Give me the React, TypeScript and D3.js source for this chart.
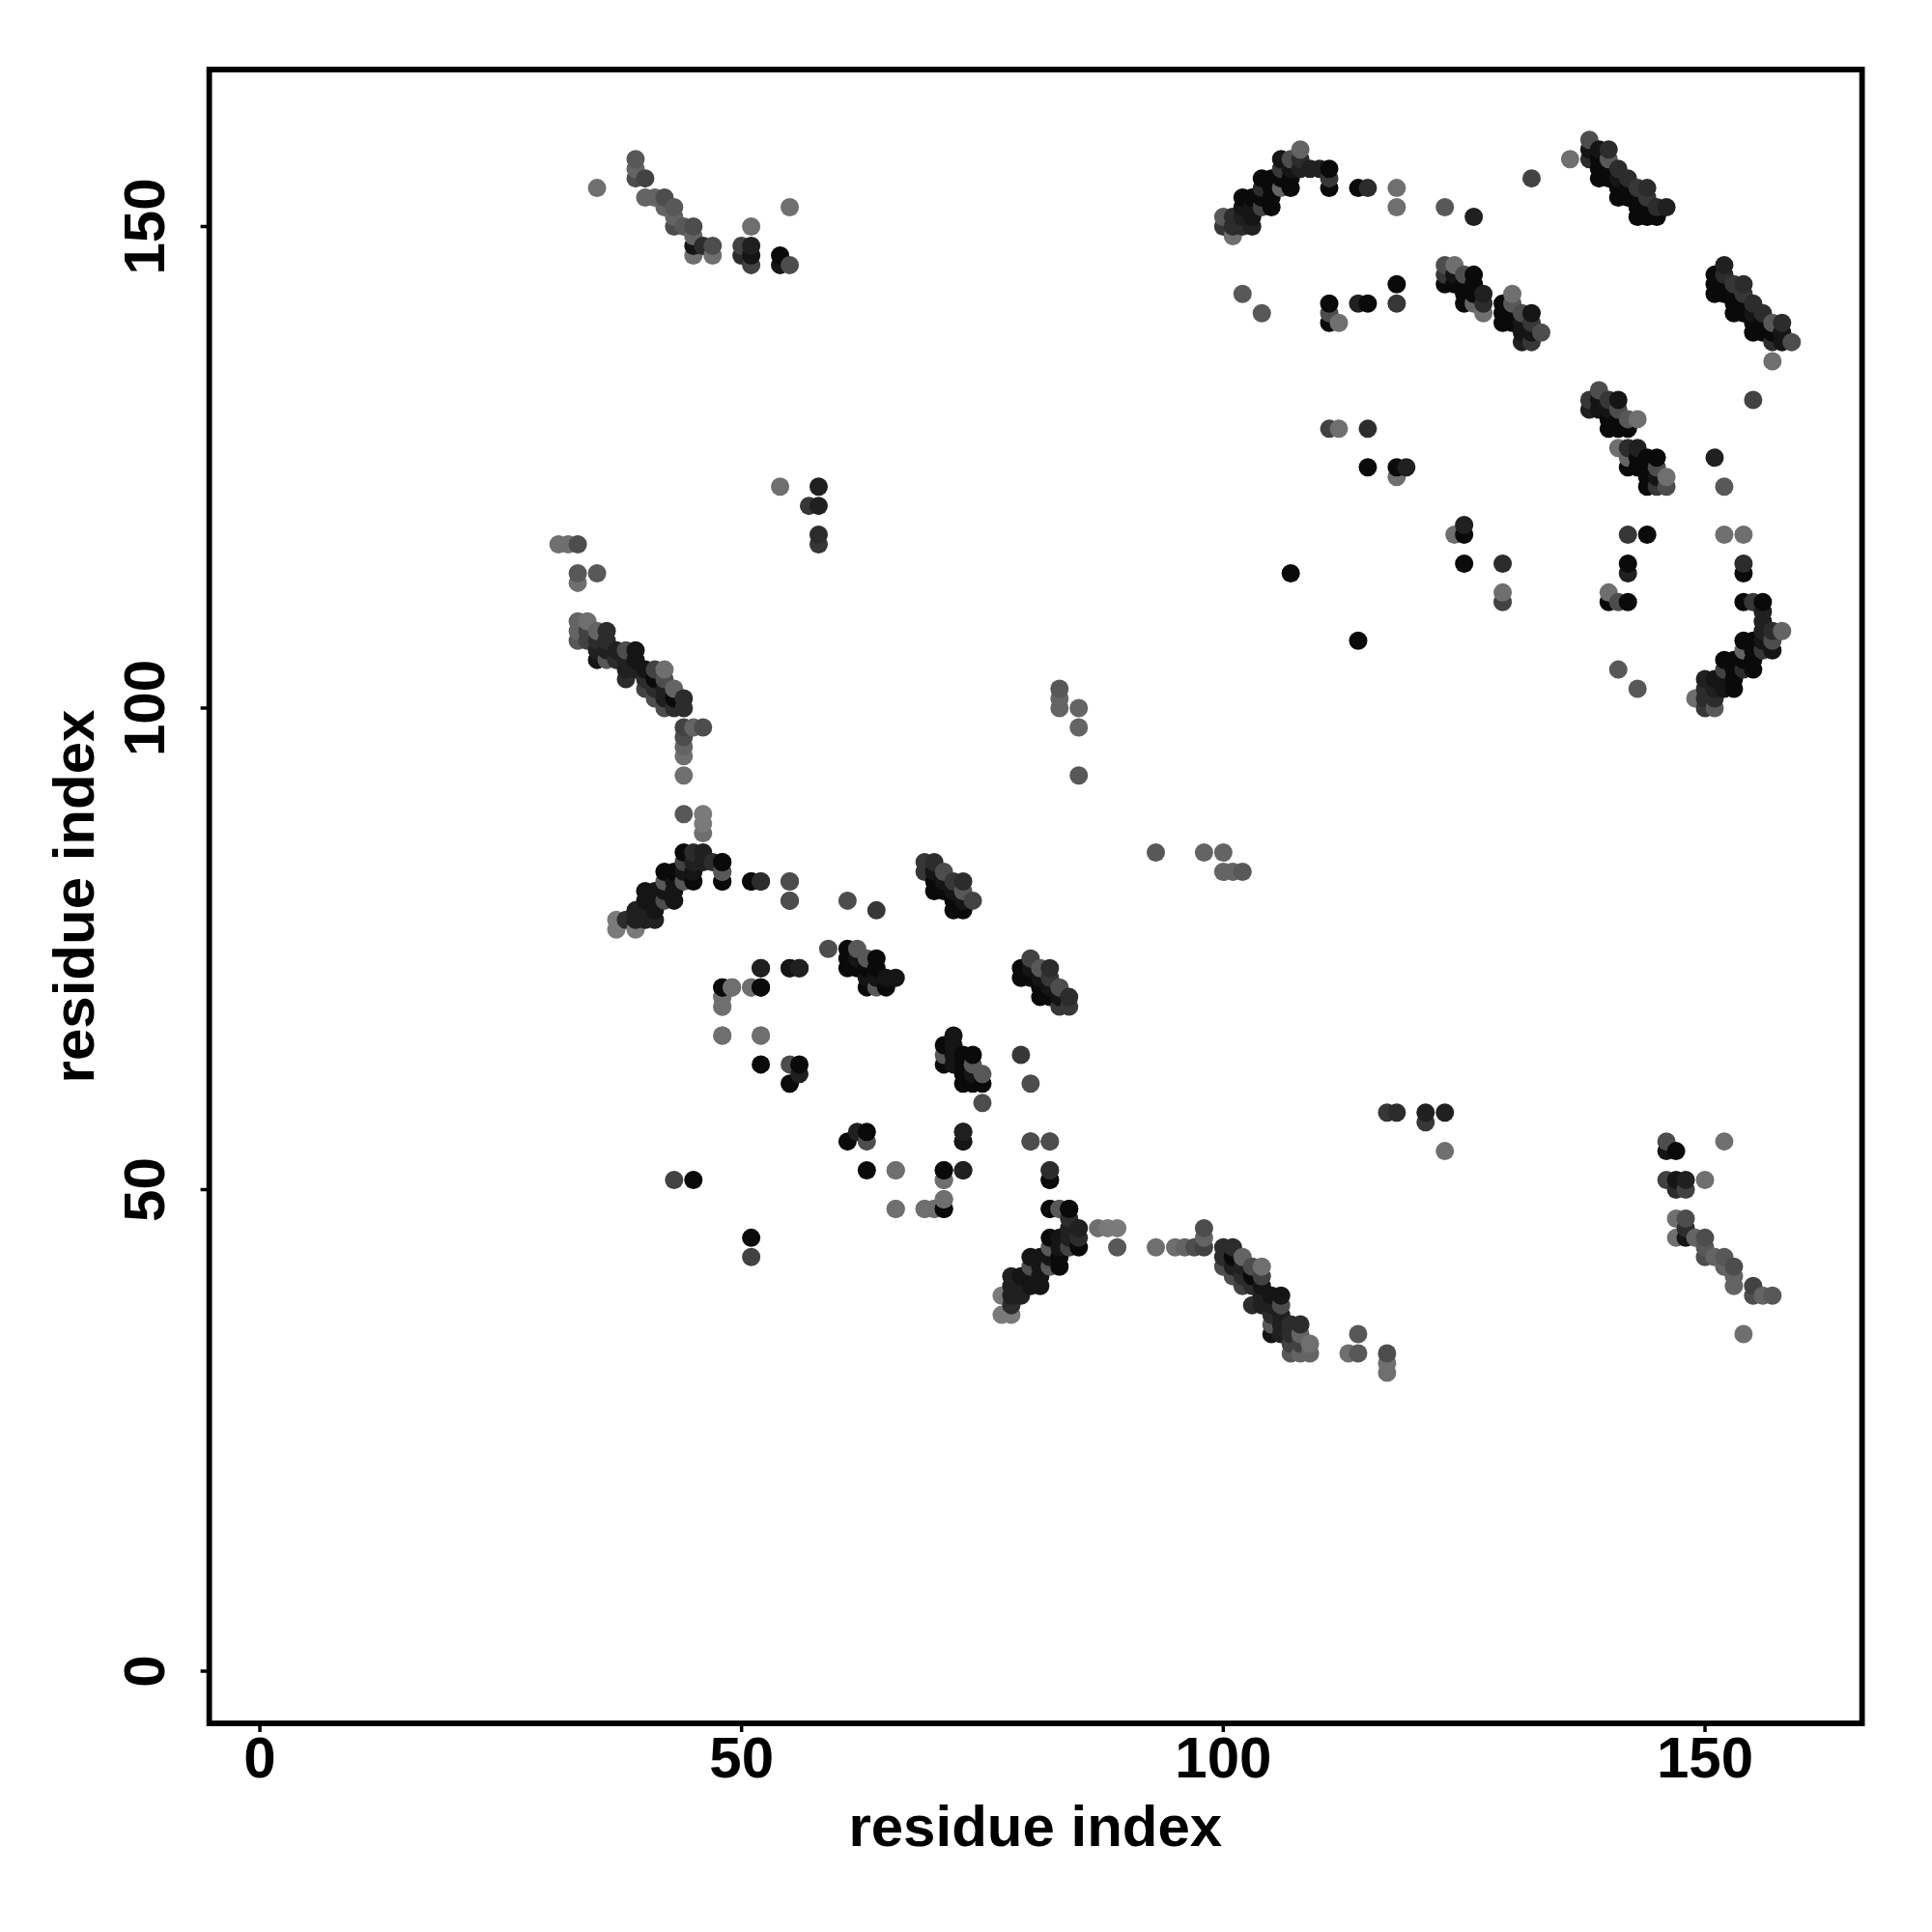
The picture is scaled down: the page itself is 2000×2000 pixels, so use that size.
import React from "react";
import * as d3 from "d3";

type Contact = [number, number, number];

// Each contact is [residue i, residue j, strength 0-10]; the map is symmetric, so each pair is listed once.
const strandA: Contact[] = [
  [35,154,1],[39,157,3],[39,156,2],[39,155,4],[40,155,5],[40,153,2],[41,153,2],[42,153,4],[42,152,2],[43,152,3],
  [43,151,2],[43,150,4],[44,150,3],[45,150,4],[45,149,2],[45,148,9],[45,147,1],[46,148,7],[47,148,4],[47,147,1],
  [50,148,5],[50,147,7],[51,150,1],[51,148,8],[51,147,9],[51,146,5],[54,147,10],[54,146,9],[55,152,1],[55,146,4],
];
const strandB: Contact[] = [
  [31,117,1],[32,117,1],[33,117,4],[33,114,3],[33,113,1],[35,114,3],
  [33,109,2],[34,109,1],[33,108,2],[33,107,3],[34,108,5],[34,107,5],[35,108,2],[36,108,7],[35,107,7],[35,106,8],[35,105,9],
  [36,107,7],[36,106,8],[36,105,3],[37,106,8],[37,105,7],[38,106,4],[39,106,9],[38,105,8],[38,104,8],[38,103,7],
  [39,105,9],[39,104,8],[40,104,9],[40,103,7],[40,102,5],[41,104,5],[42,104,1],[41,103,10],[41,102,7],[41,101,4],
  [42,103,4],[42,102,8],[42,101,8],[42,100,4],[43,102,2],[43,101,10],[43,100,7],[44,101,7],[44,100,7],
  [44,98,5],[44,97,4],[44,96,2],[44,95,1],[44,93,1],[45,98,2],[46,98,4],
];
const strandC: Contact[] = [
  [44,89,3],[46,89,0],[46,88,0],[46,87,1],[37,78,0],[37,77,0],[38,78,7],[39,77,0],[39,78,8],[39,79,8],
  [40,81,9],[40,80,9],[40,79,8],[40,78,8],[41,78,8],[41,79,9],[41,80,9],[41,81,9],
  [42,83,10],[42,82,3],[42,81,9],[42,80,4],[43,83,10],[43,82,9],[43,81,9],[43,80,9],
  [44,85,10],[44,84,5],[44,83,9],[44,82,3],[45,85,7],[45,84,8],[45,83,9],[45,82,10],[46,85,8],[46,84,8],[47,84,7],
  [48,84,10],[48,83,4],[48,82,10],[51,82,10],[52,82,7],[55,82,4],[55,80,4],[61,80,4],[64,79,6],
];
const strandD: Contact[] = [
  [69,84,6],[69,83,6],[70,84,7],[70,83,9],[70,82,10],[70,81,10],[71,83,4],[71,82,9],[71,81,10],
  [72,82,6],[72,81,9],[72,80,10],[72,79,10],[73,82,7],[73,81,3],[73,80,9],[73,79,10],[74,80,5],
];
const strandE: Contact[] = [
  [52,73,8],[55,73,9],[56,73,8],[48,71,10],[49,71,2],[51,71,1],[52,71,10],[48,70,1],[48,69,1],[48,66,1],[52,66,1],
  [52,63,10],[55,63,4],[56,63,10],[56,62,8],[55,61,10],[59,75,4],
  [61,75,10],[62,75,3],[61,74,10],[61,73,10],[62,74,9],[62,73,10],[63,74,3],[64,74,10],[63,73,10],[64,73,10],
  [63,72,9],[64,72,9],[63,71,10],[64,71,3],[65,72,9],[65,71,10],[66,72,9],
];
const strandF: Contact[] = [
  [73,56,8],[73,55,9],[80,55,4],[82,55,4],
  [66,52,1],[71,52,10],[73,52,8],[82,52,7],[82,51,10],[71,51,1],
  [66,48,1],[69,48,1],[70,48,1],[71,48,10],[71,49,1],[82,48,10],[83,48,3],[84,48,10],
  [45,51,10],[43,51,5],
];
const strandG: Contact[] = [
  [85,93,3],[83,100,2],[83,101,2],[83,102,3],[85,98,2],[85,100,2],
  [54,123,1],[58,123,8],[57,121,6],[58,121,8],[58,118,7],[58,117,6],
];
const strandH: Contact[] = [
  [100,151,3],[100,150,6],[101,149,1],[101,151,7],[101,150,7],[102,153,10],[102,152,9],[102,151,8],[102,150,7],
  [103,153,10],[103,152,9],[103,151,9],[103,150,8],[104,155,10],[104,154,7],[104,153,10],[104,152,5],
  [105,155,10],[105,154,10],[105,153,10],[105,152,10],[106,157,9],[106,156,6],[106,155,10],[106,154,2],
  [107,157,4],[107,156,9],[107,155,10],[107,154,10],[108,158,2],[108,157,7],[108,156,8],[109,156,8],[110,156,8],
  [111,156,10],[111,155,6],[111,154,10],[114,154,10],[115,154,7],[118,154,1],[118,152,1],[123,152,3],[126,151,8],
  [132,155,5],[136,157,1],
  [102,143,3],[104,141,3],[111,142,10],[111,141,4],[111,140,10],[112,140,1],[114,142,8],[115,142,10],[118,144,10],[118,142,6],
];
const strandI: Contact[] = [
  [123,146,4],[124,146,1],[123,145,6],[123,144,10],[124,145,9],[124,144,10],[125,145,4],[126,145,10],[125,144,10],
  [125,143,10],[125,142,10],[126,144,10],[126,143,10],[126,142,2],[127,143,8],[127,142,7],[127,141,1],
  [129,142,10],[129,141,10],[129,140,10],[130,143,1],[130,142,3],[130,141,10],[130,140,10],[131,141,4],[131,140,9],
  [131,139,9],[132,141,9],[132,140,6],[132,139,9],[131,138,8],[132,138,6],[133,139,4],
];
const strandJ: Contact[] = [
  [138,159,4],[138,158,9],[138,157,7],[139,158,9],[140,158,7],[139,157,10],[140,157,3],[139,156,10],[140,156,10],
  [139,155,10],[140,155,10],[141,156,7],[141,155,9],[141,154,10],[141,153,10],[142,155,7],[142,154,10],[142,153,10],
  [143,154,6],[144,154,7],[143,153,10],[144,153,6],[143,152,10],[143,151,10],[144,152,10],[144,151,10],[145,152,7],
  [146,152,8],[145,151,10],
];
const strandL: Contact[] = [
  [111,129,5],[112,129,1],[115,129,7],[115,125,10],[118,125,10],[119,125,8],[118,124,1],[107,114,10],
];

const strands: Contact[][] = [strandA, strandB, strandC, strandD, strandE, strandF, strandG, strandH, strandI, strandJ, strandL];

const xTicks = [0, 50, 100, 150];
const yTicks = [0, 50, 100, 150];
const axisTitle = "residue index";

const x = d3.scaleLinear().domain([0, 150]).range([269, 1765]);
const y = d3.scaleLinear().domain([0, 150]).range([1730, 234.5]);
const shade = d3.scaleLinear().domain([0, 10]).range([122, 10]);

const points: Contact[] = strands
  .flat()
  .flatMap(([i, j, v]): Contact[] => [[i, j, v], [j, i, v]])
  .sort((p, q) => d3.ascending(p[0], q[0]) || d3.ascending(p[1], q[1]));

const font = "'Liberation Sans', Arial, sans-serif";
const box = { left: 216.6, right: 1927.6, top: 72, bottom: 1784 };

export default function App() {
  return (
    <svg width={2000} height={2000} style={{ position: "absolute", left: 0, top: 0, background: "#fff" }}>
      {points.map(([i, j, v], k) => {
        const g = Math.round(shade(v));
        return <circle key={k} cx={x(i)} cy={y(j)} r={9.5} fill={`rgb(${g},${g},${g})`} />;
      })}
      <rect x={box.left} y={box.top} width={box.right - box.left} height={box.bottom - box.top} fill="none" stroke="#000" strokeWidth={5.8} />
      {xTicks.map((t) => (
        <g key={t}>
          <line x1={x(t)} x2={x(t)} y1={box.bottom} y2={box.bottom + 9} stroke="#000" strokeWidth={3.5} />
          <text x={x(t)} y={1840} textAnchor="middle" fontFamily={font} fontWeight="bold" fontSize={60}>{t}</text>
        </g>
      ))}
      {yTicks.map((t) => (
        <g key={t}>
          <line x1={box.left} x2={box.left - 9} y1={y(t)} y2={y(t)} stroke="#000" strokeWidth={3.5} />
          <text transform={`translate(170,${y(t)}) rotate(-90)`} textAnchor="middle" fontFamily={font} fontWeight="bold" fontSize={60}>{t}</text>
        </g>
      ))}
      <text x={1071.8} y={1911} textAnchor="middle" fontFamily={font} fontWeight="bold" fontSize={60}>{axisTitle}</text>
      <text transform="translate(97,928) rotate(-90)" textAnchor="middle" fontFamily={font} fontWeight="bold" fontSize={60}>{axisTitle}</text>
    </svg>
  );
}
